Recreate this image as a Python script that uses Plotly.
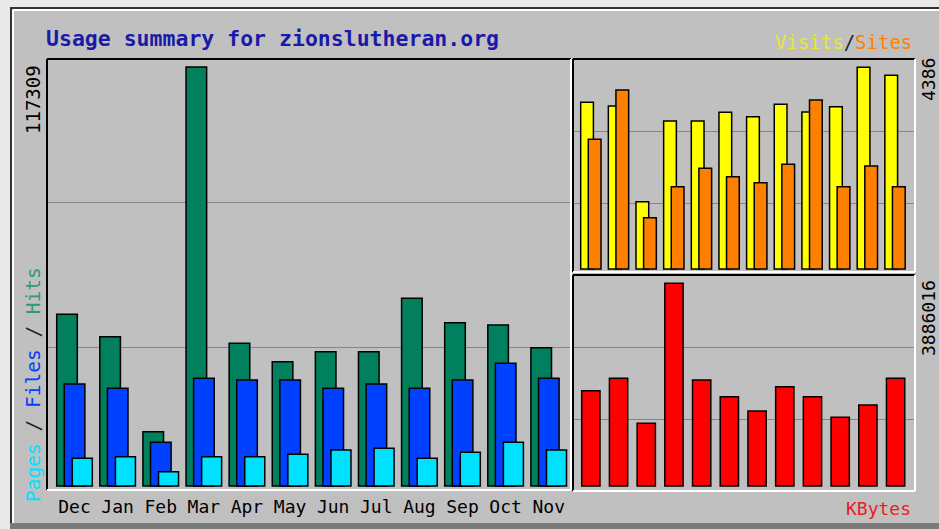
import plotly.graph_objects as go

# ---------------- data ----------------
months = ["Dec", "Jan", "Feb", "Mar", "Apr", "May", "Jun", "Jul", "Aug", "Sep", "Oct", "Nov"]
hits = [48070, 41800, 15200, 117309, 39950, 34800, 37600, 37600, 52550, 45720, 45080, 38720]
files = [28560, 27350, 12230, 30150, 29680, 29680, 27350, 28560, 27350, 29680, 34350, 30150]
pages = [7750, 8200, 4000, 8200, 8200, 8870, 10080, 10550, 7750, 9430, 12230, 10080]
visits = [3625, 3545, 1464, 3218, 3218, 3407, 3312, 3581, 3414, 3530, 4386, 4212]
sites = [2820, 3892, 1116, 1790, 2190, 2007, 1877, 2277, 3675, 1790, 2240, 1790]
kbytes = [1827000, 2065000, 1202000, 3886016, 2032000, 1712000, 1438000, 1904000,
          1712000, 1317000, 1553000, 2065000]

W, H = 939, 529
idx = list(range(len(months)))

HIT_C, FILE_C, PAGE_C = "#00805c", "#0040ff", "#00e0ff"
VISIT_C, SITE_C, KB_C = "#ffff00", "#ff8000", "#ff0000"
BG = "#c0c0c0"
GRID = "#858585"
MONO = "DejaVu Sans Mono, Liberation Mono, monospace"


def px(x):
    return x / W


def py(y):
    return 1 - y / H


fig = go.Figure()
line = dict(color="#000000", width=1.5)

# main panel: hits / files / pages
fig.add_trace(go.Bar(x=idx, y=hits, offset=0, width=0.478, marker=dict(color=HIT_C, line=line),
                     xaxis="x", yaxis="y", name="Hits"))
fig.add_trace(go.Bar(x=idx, y=files, offset=0.176, width=0.478, marker=dict(color=FILE_C, line=line),
                     xaxis="x", yaxis="y", name="Files"))
fig.add_trace(go.Bar(x=idx, y=pages, offset=0.362, width=0.464, marker=dict(color=PAGE_C, line=line),
                     xaxis="x", yaxis="y", name="Pages"))
# top right: visits / sites
fig.add_trace(go.Bar(x=idx, y=visits, offset=0, width=0.46, marker=dict(color=VISIT_C, line=line),
                     xaxis="x2", yaxis="y2", name="Visits"))
fig.add_trace(go.Bar(x=idx, y=sites, offset=0.275, width=0.46, marker=dict(color=SITE_C, line=line),
                     xaxis="x2", yaxis="y2", name="Sites"))
# bottom right: kbytes
fig.add_trace(go.Bar(x=idx, y=kbytes, offset=0, width=0.66, marker=dict(color=KB_C, line=line),
                     xaxis="x3", yaxis="y3", name="KBytes"))

m1, m2, m3 = max(hits), max(visits), max(kbytes)

common_y = dict(showticklabels=False, zeroline=False, showline=False, ticks="",
                showgrid=True, gridcolor=GRID, gridwidth=1.2, fixedrange=True)
common_x = dict(showgrid=False, zeroline=False, showline=False, fixedrange=True)

fig.update_layout(
    width=W, height=H, autosize=False,
    margin=dict(l=0, r=0, t=0, b=0),
    paper_bgcolor=BG, plot_bgcolor=BG,
    barmode="overlay", showlegend=False,
    xaxis=dict(domain=[px(47), px(571)], range=[-0.225, 11.93],
               tickmode="array", tickvals=[i + 0.413 for i in idx], ticktext=months,
               tickfont=dict(family=MONO, size=18, color="#000000"), ticks="",
               ticklabelstandoff=4, anchor="y", **common_x),
    yaxis=dict(domain=[py(490), py(59)], range=[-0.0095 * m1, 1.019 * m1],
               tickvals=[0.3317 * m1, 0.6754 * m1], anchor="x", **common_y),
    xaxis2=dict(domain=[px(573), px(915)], range=[-0.278, 12.09], showticklabels=False,
                anchor="y2", **common_x),
    yaxis2=dict(domain=[py(272), py(59)], range=[-0.0148 * m2, 1.041 * m2],
                tickvals=[0.326 * m2, 0.684 * m2], anchor="x2", **common_y),
    xaxis3=dict(domain=[px(573), px(915)], range=[-0.314, 12.03], showticklabels=False,
                anchor="y3", **common_x),
    yaxis3=dict(domain=[py(490.7), py(275)], range=[-0.0232 * m3, 1.041 * m3],
                tickvals=[0.329 * m3, 0.682 * m3], anchor="x3", **common_y),
)

shapes = []
# outer frame of the image
shapes.append(dict(type="rect", xref="paper", yref="paper", x0=0, x1=1, y0=py(7), y1=1,
                   fillcolor="#e9e9e9", line=dict(width=0), layer="below"))
shapes.append(dict(type="rect", xref="paper", yref="paper", x0=0, x1=px(10), y0=0, y1=1,
                   fillcolor="#e9e9e9", line=dict(width=0), layer="below"))
shapes.append(dict(type="rect", xref="paper", yref="paper", x0=px(10), x1=1, y0=0, y1=py(523),
                   fillcolor="#7a7a7a", line=dict(width=0), layer="below"))
shapes.append(dict(type="line", xref="paper", yref="paper", x0=px(10), x1=1, y0=py(8), y1=py(8),
                   line=dict(color="#333333", width=2)))
shapes.append(dict(type="line", xref="paper", yref="paper", x0=px(11), x1=px(11), y0=py(523), y1=py(8),
                   line=dict(color="#333333", width=2)))
shapes.append(dict(type="line", xref="paper", yref="paper", x0=px(13), x1=1, y0=py(10), y1=py(10),
                   line=dict(color="#ffffff", width=2)))
shapes.append(dict(type="line", xref="paper", yref="paper", x0=px(13), x1=px(13), y0=py(523), y1=py(10),
                   line=dict(color="#ffffff", width=2)))


def bevel(x0, x1, y0, y1):
    # y0 = top pixel, y1 = bottom pixel
    out = []
    out.append(dict(type="line", xref="paper", yref="paper", x0=px(x0), x1=px(x1), y0=py(y0), y1=py(y0),
                    line=dict(color="#000000", width=2)))
    out.append(dict(type="line", xref="paper", yref="paper", x0=px(x0), x1=px(x0), y0=py(y1), y1=py(y0),
                    line=dict(color="#000000", width=2)))
    out.append(dict(type="line", xref="paper", yref="paper", x0=px(x0), x1=px(x1), y0=py(y1), y1=py(y1),
                    line=dict(color="#ffffff", width=2)))
    out.append(dict(type="line", xref="paper", yref="paper", x0=px(x1), x1=px(x1), y0=py(y1), y1=py(y0),
                    line=dict(color="#ffffff", width=2)))
    return out


shapes += bevel(47, 571, 59, 490)
shapes += bevel(573, 915, 59, 272)
shapes += bevel(573, 915, 275, 491)
fig.update_layout(shapes=shapes)

ann = []
ann.append(dict(text="<b>Usage summary for zionslutheran.org</b>", xref="paper", yref="paper",
                x=px(44), y=py(38), xanchor="left", yanchor="middle", showarrow=False,
                font=dict(family=MONO, size=21.5, color="#1a1aa8")))
ann.append(dict(text=f"<span style='color:#e8e830'>Visits</span>/<span style='color:{SITE_C}'>Sites</span>",
                xref="paper", yref="paper", x=px(914), y=py(42), xanchor="right", yanchor="middle",
                showarrow=False, font=dict(family=MONO, size=19, color="#202020")))
ann.append(dict(text=f"{max(hits)}", xref="paper", yref="paper", x=px(33), y=py(100),
                xanchor="center", yanchor="middle", textangle=-90, showarrow=False,
                font=dict(family=MONO, size=19, color="#000000")))
ann.append(dict(text=f"<span style='color:{PAGE_C}'>Pages</span> / <span style='color:{FILE_C}'>Files</span>"
                     f" / <span style='color:#2e9a78'>Hits</span>",
                xref="paper", yref="paper", x=px(33), y=py(385), xanchor="center", yanchor="middle",
                textangle=-90, showarrow=False, font=dict(family=MONO, size=19.5, color="#202020")))
ann.append(dict(text=f"{max(visits)}", xref="paper", yref="paper", x=px(928), y=py(80),
                xanchor="center", yanchor="middle", textangle=-90, showarrow=False,
                font=dict(family=MONO, size=18, color="#000000")))
ann.append(dict(text=f"{max(kbytes)}", xref="paper", yref="paper", x=px(928), y=py(318),
                xanchor="center", yanchor="middle", textangle=-90, showarrow=False,
                font=dict(family=MONO, size=18, color="#000000")))
ann.append(dict(text="KBytes", xref="paper", yref="paper", x=px(913), y=py(508),
                xanchor="right", yanchor="middle", showarrow=False,
                font=dict(family=MONO, size=18, color="#e82020")))
fig.update_layout(annotations=ann)

fig.write_html("out.html", config={"displayModeBar": False},
               post_script="document.body.style.margin='0px';document.body.style.overflow='hidden';")
